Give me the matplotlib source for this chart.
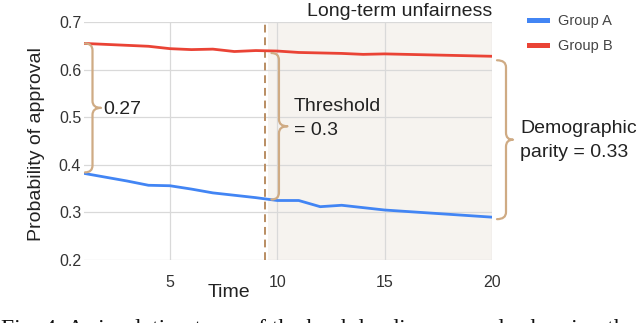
import numpy as np
import matplotlib
matplotlib.use("Agg")
import matplotlib.pyplot as plt
from matplotlib.path import Path
from matplotlib.patches import PathPatch
from matplotlib.transforms import IdentityTransform
from matplotlib.lines import Line2D

# ---------------- data ----------------
time = list(range(1, 21))
group_a = [0.382, 0.374, 0.366, 0.357, 0.356, 0.349, 0.341, 0.336, 0.331, 0.325,
           0.325, 0.312, 0.315, 0.310, 0.305, 0.302, 0.299, 0.296, 0.293, 0.290]
group_b = [0.655, 0.653, 0.651, 0.649, 0.644, 0.642, 0.643, 0.638, 0.640, 0.639,
           0.636, 0.635, 0.634, 0.632, 0.633, 0.632, 0.631, 0.630, 0.629, 0.628]
series_labels = ["Group A", "Group B"]
x_ticks = [5, 10, 15, 20]
y_ticks = [0.2, 0.3, 0.4, 0.5, 0.6, 0.7]
threshold_time = 9.45
unfair_start = 9.55
gap_label = "0.27"
threshold_label = ["Threshold", "= 0.3"]
parity_label = ["Demographic", "parity = 0.33"]
region_label = "Long-term unfairness"
caption = "Fig. 4: A simulation trace of the bank lending example showing the long-term"

# ---------------- style ----------------
W, H = 640, 323
plt.rcParams['font.family'] = ['Liberation Sans', 'DejaVu Sans']
BLUE = '#4285f4'
RED = '#ea4335'
BRACE = '#cfab84'
DASH = '#b98d62'
SHADE = '#f6f3ef'
GRID = '#d9d9d9'
TXT = '#222222'

fig = plt.figure(figsize=(W / 100, H / 100), dpi=100)

def fx(px):
    return px / W

def fy(py):
    return 1 - py / H

ax = fig.add_axes([fx(84), fy(260), fx(492) - fx(84), fy(22) - fy(260)])
ax.set_xlim(time[0], time[-1])
ax.set_ylim(y_ticks[0], y_ticks[-1])
ax.axvspan(unfair_start, time[-1], color=SHADE, zorder=0, lw=0)
ax.set_axisbelow(True)
ax.grid(True, color=GRID, lw=0.9)
ax.set_xticks(x_ticks)
ax.set_yticks(y_ticks)
ax.set_yticklabels([f"{v:.1f}" for v in y_ticks])
ax.tick_params(length=0, labelsize=11.5, colors='#333333')
ax.tick_params(axis='x', pad=10.5)
ax.tick_params(axis='y', pad=2)
for s in ax.spines.values():
    s.set_visible(False)

ax.plot(time, group_a, color=BLUE, lw=2.0, zorder=3)
ax.plot(time, group_b, color=RED, lw=2.0, zorder=3)
ax.axvline(threshold_time, color=DASH, lw=1.4, ls=(0, (4, 2.5)), zorder=2)

# legend
handles = [Line2D([], [], color=BLUE, lw=3.6), Line2D([], [], color=RED, lw=3.6)]
leg = fig.legend(handles, series_labels, loc='upper left',
                 bbox_to_anchor=(fx(529), fy(14)), frameon=False,
                 borderpad=0, borderaxespad=0, handlelength=1.25,
                 handletextpad=0.75, labelspacing=0.75, fontsize=10.5)
for t in leg.get_texts():
    t.set_color('#444444')

# braces (display coords)
def brace(x0, yt, yb, w=7.5, tip=8.5, r=7.0):
    ym = (yt + yb) / 2
    verts = [(x0, yt), (x0 + w, yt), (x0 + w, yt - r),
             (x0 + w, ym + r),
             (x0 + w, ym), (x0 + w + tip, ym),
             (x0 + w, ym), (x0 + w, ym - r),
             (x0 + w, yb + r),
             (x0 + w, yb), (x0, yb)]
    codes = [Path.MOVETO, Path.CURVE3, Path.CURVE3,
             Path.LINETO,
             Path.CURVE3, Path.CURVE3,
             Path.CURVE3, Path.CURVE3,
             Path.LINETO,
             Path.CURVE3, Path.CURVE3]
    p = PathPatch(Path(verts, codes), fill=False, edgecolor=BRACE, lw=1.6,
                  transform=IdentityTransform(), clip_on=False,
                  capstyle='round', joinstyle='round')
    fig.add_artist(p)

T = ax.transData.transform
x1, yt1 = T((time[0], group_b[0]))
_, yb1 = T((time[0], group_a[0]))
brace(x1 + 1, yt1, yb1 + 1)
x2, yt2 = T((threshold_time, group_b[9]))
_, yb2 = T((threshold_time, group_a[9]))
brace(x2 + 6, yt2 - 2, yb2 + 1)
x3, yt3 = T((time[-1], group_b[-1]))
_, yb3 = T((time[-1], group_a[-1]))
brace(x3 + 5, yt3 - 4, yb3 - 2, w=9, tip=7)

# texts
def ftext(px, py, s, **kw):
    kw.setdefault('color', TXT)
    fig.text(fx(px), fy(py), s, **kw)

ftext(103, 109.5, gap_label, fontsize=14, va='center')
ftext(294, 110.7, threshold_label[0], fontsize=14, va='baseline')
ftext(294, 135, threshold_label[1], fontsize=14, va='baseline')
ftext(520, 133.3, parity_label[0], fontsize=14, va='baseline')
ftext(520, 157, parity_label[1], fontsize=14, va='baseline')
ftext(492.7, 16, region_label, fontsize=14, va='baseline', ha='right')
ftext(208, 297, "Time", fontsize=14, va='baseline')
ftext(37, 144.5, "Probability of approval", fontsize=14, va='center', ha='center',
      rotation=90)
fig.text(fx(1), fy(335.5), caption, fontsize=17, va='baseline', ha='left',
         family=['Liberation Serif', 'DejaVu Serif'], color='#111111')

fig.savefig('out.png', dpi=100)
